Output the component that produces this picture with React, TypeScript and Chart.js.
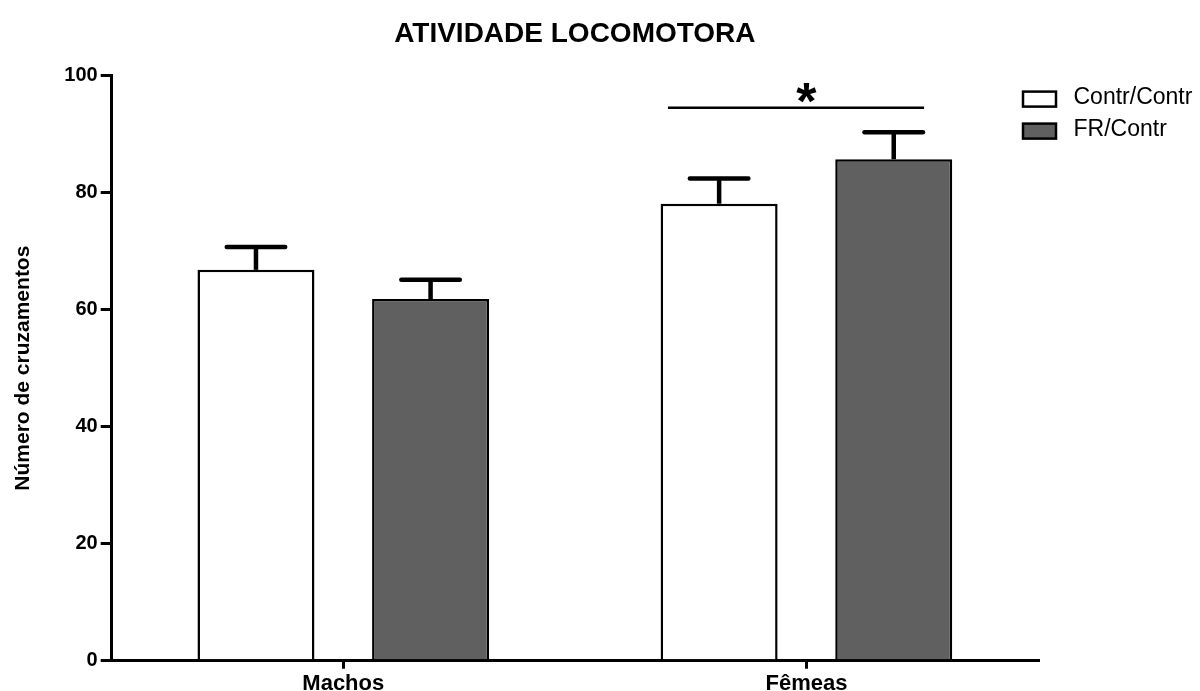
import React, { useEffect, useRef } from 'react';
import { Chart, registerables } from 'chart.js';

Chart.register(...registerables);

const TITLE = 'ATIVIDADE LOCOMOTORA';
const Y_TITLE = 'Número de cruzamentos';
const categories = ['Machos', 'Fêmeas'];
const seriesLabels = ['Contr/Contr', 'FR/Contr'];
const contrMeans = [66.8, 78.1];
const contrSem = [3.9, 4.3];
const frMeans = [61.8, 85.7];
const frSem = [3.3, 4.6];
const yTicks = [0, 20, 40, 60, 80, 100];
// significance bracket: x in category-index units, y in data units
const sigFrom = 0.701;
const sigTo = 1.254;
const sigY = 94.5;
const sigLabelAt = 1;
const sigLabel = '*';

const FONT = 'Arial, "Liberation Sans", Helvetica, sans-serif';
const seriesColors = ['#ffffff', '#606060'];

const errorBarPlugin = {
  id: 'errorBars',
  afterDatasetsDraw(chart: any) {
    const ctx = chart.ctx;
    const yScale = chart.scales.y;
    chart.data.datasets.forEach((ds: any, i: number) => {
      const meta = chart.getDatasetMeta(i);
      meta.data.forEach((el: any, j: number) => {
        const top = yScale.getPixelForValue(ds.data[j] + ds.errors[j]);
        const x = el.x;
        const half = el.width / 4;
        ctx.save();
        ctx.strokeStyle = '#000';
        ctx.lineWidth = 4.5;
        ctx.lineCap = 'butt';
        ctx.beginPath();
        ctx.moveTo(x, el.y);
        ctx.lineTo(x, top);
        ctx.stroke();
        ctx.lineCap = 'round';
        ctx.beginPath();
        ctx.moveTo(x - half, top);
        ctx.lineTo(x + half, top);
        ctx.stroke();
        ctx.restore();
      });
    });
  },
};

const sigPlugin = {
  id: 'sigBracket',
  afterDatasetsDraw(chart: any) {
    const ctx = chart.ctx;
    const xs = chart.scales.x;
    const ys = chart.scales.y;
    const x1 = xs.getPixelForValue(sigFrom);
    const x2 = xs.getPixelForValue(sigTo);
    const y = ys.getPixelForValue(sigY);
    ctx.save();
    ctx.strokeStyle = '#000';
    ctx.lineWidth = 2.5;
    ctx.beginPath();
    ctx.moveTo(x1, y);
    ctx.lineTo(x2, y);
    ctx.stroke();
    ctx.fillStyle = '#000';
    ctx.font = `bold 52px ${FONT}`;
    ctx.textAlign = 'center';
    ctx.textBaseline = 'alphabetic';
    const m = ctx.measureText(sigLabel);
    const asc = m.actualBoundingBoxAscent;
    const desc = m.actualBoundingBoxDescent;
    const glyphCenterY = y - 14.5;
    const baseline = glyphCenterY - (desc - asc) / 2;
    ctx.fillText(sigLabel, xs.getPixelForValue(sigLabelAt), baseline);
    ctx.restore();
  },
};

const legendPlugin = {
  id: 'customLegend',
  afterDraw(chart: any) {
    const ctx = chart.ctx;
    const area = chart.chartArea;
    const boxLeft = area.right - 15;
    ctx.save();
    chart.data.datasets.forEach((ds: any, i: number) => {
      const cy = area.top + 23.5 + i * 32;
      ctx.fillStyle = ds.backgroundColor;
      ctx.fillRect(boxLeft, cy - 7.5, 33, 15);
      ctx.strokeStyle = '#000';
      ctx.lineWidth = 2.5;
      ctx.strokeRect(boxLeft, cy - 7.5, 33, 15);
      ctx.fillStyle = '#000';
      ctx.font = `23px ${FONT}`;
      ctx.textAlign = 'left';
      ctx.textBaseline = 'middle';
      ctx.fillText(ds.label, boxLeft + 50.5, cy - 1);
    });
    ctx.restore();
  },
};

export default function App() {
  const canvasRef = useRef<HTMLCanvasElement | null>(null);

  useEffect(() => {
    if (!canvasRef.current) return;
    const chart = new Chart(canvasRef.current, {
      type: 'bar',
      data: {
        labels: categories,
        datasets: [
          {
            label: seriesLabels[0],
            data: contrMeans,
            errors: contrSem,
            backgroundColor: seriesColors[0],
            borderColor: '#000',
            borderWidth: 2.5,
            categoryPercentage: 0.754,
            barPercentage: 0.67,
          } as any,
          {
            label: seriesLabels[1],
            data: frMeans,
            errors: frSem,
            backgroundColor: seriesColors[1],
            borderColor: '#000',
            borderWidth: 2.5,
            categoryPercentage: 0.754,
            barPercentage: 0.67,
          } as any,
        ],
      },
      options: {
        responsive: false,
        animation: false,
        layout: { padding: { left: 6, right: 162, top: 0, bottom: 0 } },
        plugins: {
          legend: { display: false },
          tooltip: { enabled: false },
          title: {
            display: true,
            text: TITLE,
            fullSize: false,
            color: '#000',
            font: { size: 28, weight: 'bold', family: FONT },
            padding: { top: 17, bottom: 25 },
          },
        },
        scales: {
          x: {
            type: 'category',
            offset: true,
            grid: {
              offset: false,
              drawOnChartArea: false,
              drawTicks: true,
              tickLength: 8,
              color: '#000',
              lineWidth: 3,
            },
            border: { display: true, color: '#000', width: 3 },
            ticks: {
              color: '#000',
              padding: 2,
              font: { size: 22, weight: 'bold', family: FONT },
            },
            afterFit: (s: any) => {
              s.height = 30.3;
            },
          },
          y: {
            min: 0,
            max: 100,
            afterBuildTicks: (s: any) => {
              s.ticks = yTicks.map((v) => ({ value: v }));
            },
            grid: {
              drawOnChartArea: false,
              drawTicks: true,
              tickLength: 11,
              color: '#000',
              lineWidth: 3,
            },
            border: { display: true, color: '#000', width: 3 },
            ticks: {
              color: '#000',
              padding: 3,
              font: { size: 20, weight: 'bold', family: FONT },
            },
            title: {
              display: true,
              text: Y_TITLE,
              color: '#000',
              font: { size: 21, weight: 'bold', family: FONT },
              padding: { top: 5, bottom: 0 },
            },
            afterFit: (s: any) => {
              s.width = 105.7;
            },
          },
        },
      } as any,
      plugins: [errorBarPlugin, sigPlugin, legendPlugin],
    });
    return () => chart.destroy();
  }, []);

  return (
    <div style={{ position: 'absolute', left: 0, top: 0, width: 1200, height: 691, background: '#fff' }}>
      <canvas ref={canvasRef} width={1200} height={691} style={{ width: 1200, height: 691 }} />
    </div>
  );
}
